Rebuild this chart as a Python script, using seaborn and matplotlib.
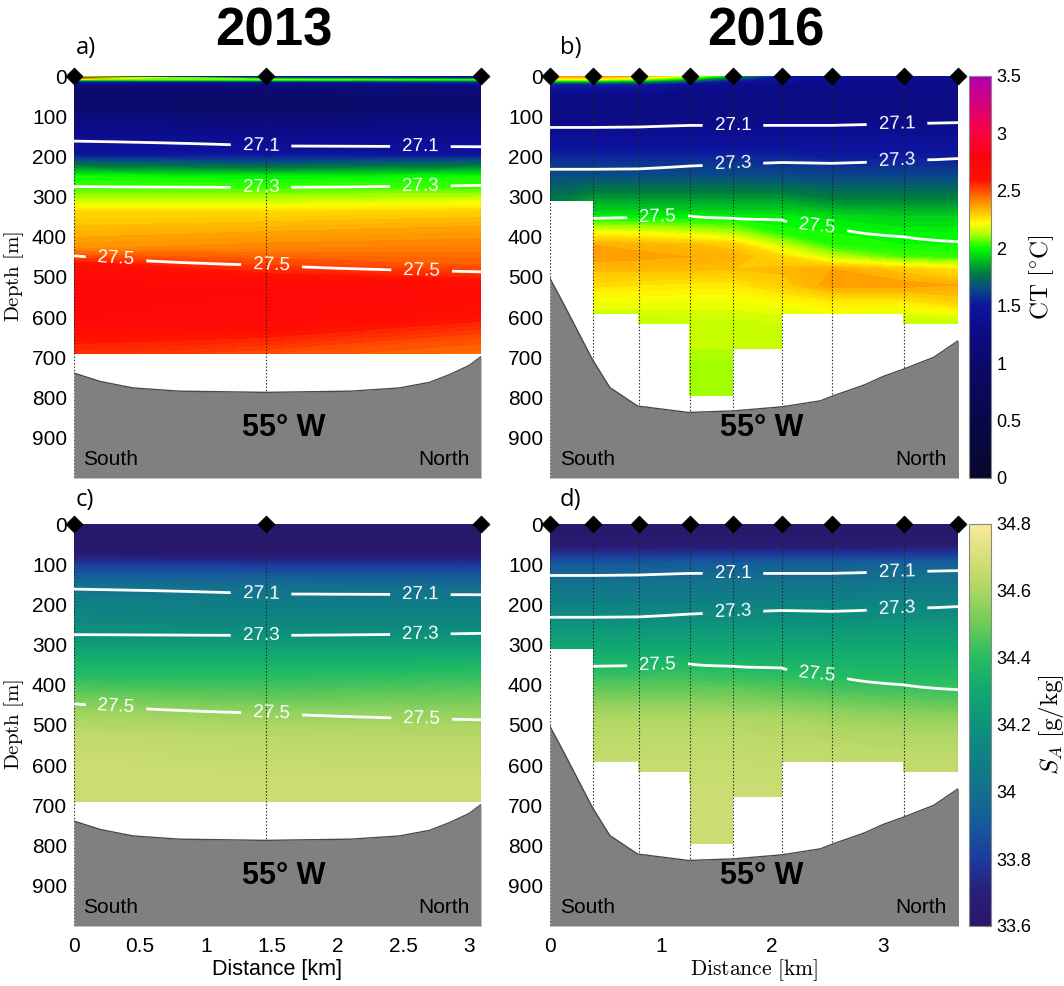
import numpy as np
import matplotlib
matplotlib.use("Agg")
import matplotlib.pyplot as plt
import seaborn as sns
from matplotlib.colors import LinearSegmentedColormap, Normalize
from matplotlib.cm import ScalarMappable

# ------------------------------------------------------------------ data
stations_2013 = [0.0, 1.46, 3.09]
stations_2016 = [0.0, 0.39, 0.80, 1.26, 1.65, 2.09, 2.54, 3.19, 3.68]
xmax_2013 = 3.09
xmax_2016 = 3.68

depth_2013 = [0, 4, 9, 16, 30, 70, 110, 150, 190, 220, 250, 280, 310, 340,
              380, 430, 470, 530, 600, 650, 690]
bottom_2013 = [690, 690, 690]

ct_2013_south = [1.3, 2.6, 2.05, 1.3, 1.1, 1.0, 1.2, 1.35, 1.45, 1.75, 2.0, 2.05,
                 2.15, 2.28, 2.33, 2.4, 2.62, 2.72, 2.7, 2.6, 2.55]
ct_2013_mid = [1.2, 1.6, 2.1, 1.3, 1.1, 0.95, 1.15, 1.35, 1.45, 1.7, 1.98, 2.05,
               2.15, 2.28, 2.35, 2.42, 2.52, 2.7, 2.68, 2.58, 2.5]
ct_2013_north = [1.2, 1.4, 2.0, 1.5, 1.15, 1.0, 1.2, 1.35, 1.45, 1.75, 2.0, 2.05,
                 2.18, 2.3, 2.37, 2.43, 2.48, 2.66, 2.6, 2.5, 2.45]

sa_2013_south = [33.62, 33.62, 33.62, 33.62, 33.62, 33.63, 33.85, 34.0, 34.08, 34.11,
                 34.15, 34.2, 34.27, 34.33, 34.4, 34.5, 34.58, 34.65, 34.67, 34.67, 34.67]
sa_2013_mid = [33.62, 33.62, 33.62, 33.62, 33.62, 33.63, 33.83, 33.99, 34.07, 34.1,
               34.14, 34.2, 34.27, 34.33, 34.4, 34.48, 34.56, 34.63, 34.66, 34.67, 34.67]
sa_2013_north = [33.62, 33.62, 33.62, 33.62, 33.62, 33.63, 33.82, 33.98, 34.06, 34.1,
                 34.14, 34.2, 34.27, 34.34, 34.42, 34.5, 34.56, 34.62, 34.66, 34.67, 34.67]

depth_2016 = [0, 8, 20, 50, 100, 150, 200, 250, 310, 350, 390, 420, 450, 480,
              520, 560, 592, 615, 678, 720, 795]
bottom_2016 = [310, 592, 615, 795, 795, 678, 592, 615, 615]

ct_2016 = [
    [2.4, 2.2, 1.55, 1.25, 1.25, 1.4, 1.55, 1.66, 1.76],
    [2.4, 2.2, 1.55, 1.25, 1.25, 1.4, 1.55, 1.66, 1.85, 1.97, 2.22, 2.36, 2.38, 2.33,
     2.27, 2.2, 2.17],
    [2.35, 2.1, 1.55, 1.25, 1.25, 1.4, 1.55, 1.66, 1.85, 1.97, 2.2, 2.35, 2.37, 2.33,
     2.26, 2.2, 2.17, 2.14],
    [2.2, 1.9, 1.4, 1.25, 1.25, 1.4, 1.55, 1.66, 1.85, 1.97, 2.17, 2.33, 2.36, 2.33,
     2.25, 2.2, 2.17, 2.15, 2.14, 2.11, 2.1],
    [1.9, 1.6, 1.35, 1.25, 1.25, 1.4, 1.55, 1.66, 1.85, 1.97, 2.13, 2.3, 2.35, 2.32,
     2.25, 2.2, 2.17, 2.15, 2.14, 2.11, 2.1],
    [1.5, 1.45, 1.3, 1.25, 1.25, 1.4, 1.55, 1.65, 1.85, 1.97, 2.02, 2.15, 2.28, 2.33,
     2.3, 2.22, 2.18, 2.16, 2.14],
    [1.4, 1.35, 1.3, 1.25, 1.25, 1.4, 1.52, 1.64, 1.8, 1.95, 2.0, 2.02, 2.15, 2.36,
     2.38, 2.25, 2.2],
    [1.4, 1.35, 1.3, 1.25, 1.25, 1.4, 1.52, 1.64, 1.8, 1.92, 1.98, 2.0, 2.05, 2.3,
     2.38, 2.25, 2.18, 2.14],
    [1.4, 1.35, 1.3, 1.25, 1.25, 1.4, 1.52, 1.64, 1.8, 1.92, 1.98, 2.0, 2.03, 2.25,
     2.36, 2.3, 2.2, 2.14],
]

sa_2016 = [
    [33.62, 33.62, 33.62, 33.64, 33.9, 34.02, 34.1, 34.2, 34.3],
    [33.62, 33.62, 33.62, 33.64, 33.9, 34.02, 34.1, 34.2, 34.3, 34.37, 34.45, 34.5,
     34.56, 34.6, 34.63, 34.65, 34.66],
    [33.62, 33.62, 33.62, 33.64, 33.9, 34.02, 34.1, 34.2, 34.3, 34.37, 34.45, 34.5,
     34.56, 34.6, 34.63, 34.65, 34.66, 34.66],
    [33.62, 33.62, 33.62, 33.64, 33.92, 34.02, 34.1, 34.2, 34.3, 34.38, 34.45, 34.5,
     34.56, 34.6, 34.63, 34.65, 34.66, 34.66, 34.67, 34.67, 34.67],
    [33.62, 33.62, 33.62, 33.64, 33.92, 34.03, 34.1, 34.2, 34.3, 34.37, 34.44, 34.5,
     34.55, 34.6, 34.63, 34.65, 34.66, 34.66, 34.67, 34.67, 34.67],
    [33.62, 33.62, 33.62, 33.64, 33.93, 34.03, 34.11, 34.2, 34.3, 34.36, 34.43, 34.48,
     34.54, 34.59, 34.62, 34.64, 34.65, 34.66, 34.67],
    [33.62, 33.62, 33.62, 33.64, 33.93, 34.03, 34.11, 34.2, 34.3, 34.35, 34.41, 34.46,
     34.52, 34.57, 34.61, 34.64, 34.65],
    [33.62, 33.62, 33.62, 33.64, 33.94, 34.04, 34.12, 34.21, 34.3, 34.35, 34.4, 34.45,
     34.5, 34.56, 34.6, 34.63, 34.65, 34.65],
    [33.62, 33.62, 33.62, 33.64, 33.94, 34.04, 34.12, 34.21, 34.3, 34.35, 34.4, 34.44,
     34.49, 34.55, 34.6, 34.63, 34.65, 34.65],
]

# isopycnal depths (m) at each station
iso_levels = [27.1, 27.3, 27.5]
iso271_2013 = [162, 174, 176]
iso273_2013 = [275, 277, 272]
iso275_2013 = [447, 471, 487]
iso271_2016 = [128, 128, 127, 123, 123, 123, 123, 119, 116]
iso273_2016 = [232, 232, 231, 224, 219, 215, 217, 210, 205]
iso275_2016 = [np.nan, 354, 352, 348, 354, 358, 376, 400, 412]

# isopycnal label positions (km, m)
iso_labels_2013 = [(1.42, 174), (2.63, 175), (1.42, 277), (2.63, 273),
                   (0.32, 450), (1.50, 471), (2.64, 481)]
iso_labels_2016 = [(1.65, 123), (3.13, 119), (1.65, 219), (3.13, 210),
                   (0.97, 352), (2.41, 371)]

# bathymetry
bathy_x_2013 = [0, 0.2, 0.45, 0.8, 1.46, 2.1, 2.47, 2.7, 2.85, 3.0, 3.09]
bathy_z_2013 = [739, 760, 776, 784, 787, 784, 776, 762, 743, 720, 698]
bathy_x_2016 = [0, 0.1, 0.2, 0.38, 0.54, 0.79, 1.25, 1.66, 2.09, 2.44, 2.55, 2.84,
                3.0, 3.2, 3.46, 3.69]
bathy_z_2016 = [504, 555, 608, 704, 775, 821, 837, 833, 823, 808, 796, 768, 748,
                728, 700, 657]

depth_ticks = [0, 100, 200, 300, 400, 500, 600, 700, 800, 900]
dist_ticks_2013 = [0, 0.5, 1, 1.5, 2, 2.5, 3]
dist_ticks_2016 = [0, 1, 2, 3]
ct_ticks = [0, 0.5, 1, 1.5, 2, 2.5, 3, 3.5]
sa_ticks = [33.6, 33.8, 34.0, 34.2, 34.4, 34.6, 34.8]

# ------------------------------------------------------------------ style
sns.set_style("white")
plt.rcParams["font.family"] = ["Liberation Sans", "DejaVu Sans"]
plt.rcParams["mathtext.fontset"] = "cm"
for key in ("text.color", "axes.labelcolor", "xtick.color", "ytick.color"):
    plt.rcParams[key] = "black"

ct_cmap = LinearSegmentedColormap.from_list("ct", [
    (0.0 / 3.5, "#08082e"), (0.5 / 3.5, "#080848"), (1.0 / 3.5, "#0a0a6a"),
    (1.3 / 3.5, "#0c0c8a"), (1.5 / 3.5, "#0e14a0"), (1.65 / 3.5, "#0a4a88"),
    (1.78 / 3.5, "#007a40"), (1.9 / 3.5, "#00c020"), (2.0 / 3.5, "#00ff00"),
    (2.12 / 3.5, "#aaff00"), (2.22 / 3.5, "#ffff00"), (2.35 / 3.5, "#ffb000"),
    (2.45 / 3.5, "#ff7000"), (2.6 / 3.5, "#ff1000"), (2.8 / 3.5, "#ff0010"),
    (3.0 / 3.5, "#ff0040"), (1.0, "#b000b0")])
sa_cmap = LinearSegmentedColormap.from_list("sa", [
    (0.0, "#2a176a"), (0.1 / 1.2, "#271f7a"), (0.2 / 1.2, "#1d3b9e"),
    (0.3 / 1.2, "#155a9c"), (0.4 / 1.2, "#146f8e"), (0.5 / 1.2, "#0f8184"),
    (0.6 / 1.2, "#0e927c"), (0.7 / 1.2, "#10a870"), (0.8 / 1.2, "#25bc62"),
    (0.9 / 1.2, "#6cca58"), (1.0 / 1.2, "#acd663"), (1.1 / 1.2, "#d6df78"),
    (1.0, "#f7e99a")])
ct_norm = Normalize(0, 3.5)
sa_norm = Normalize(33.6, 34.8)

W, H = 1064, 986
fig = plt.figure(figsize=(W / 100, H / 100), dpi=100)


def rect(x0, y0, x1, y1):
    return [x0 / W, 1 - y1 / H, (x1 - x0) / W, (y1 - y0) / H]


ax_a = fig.add_axes(rect(74, 76, 481, 478))
ax_b = fig.add_axes(rect(550, 76, 958, 478))
ax_c = fig.add_axes(rect(74, 524, 481, 926))
ax_d = fig.add_axes(rect(550, 524, 958, 926))
cax1 = fig.add_axes(rect(969, 76, 991, 478))
cax2 = fig.add_axes(rect(969, 524, 991, 926))


def gridded(depths, profiles):
    z = np.full((len(depths), len(profiles)), np.nan)
    for j, p in enumerate(profiles):
        z[:len(p), j] = p
    return np.ma.masked_invalid(z)


def panel(ax, stations, depths, profiles, bottoms, cmap, norm, levels,
          iso271, iso273, iso275, label_pos, bx, bz, xmax, ns_x, w55_x):
    X, Y = np.meshgrid(stations, depths)
    Z = gridded(depths, profiles)
    ax.contourf(X, Y, Z, levels=levels, cmap=cmap, norm=norm, extend="both",
                corner_mask=False, antialiased=False, zorder=1)
    # station lines
    ax.vlines(stations, 0, 1000, colors="#222222", linestyles=(0, (1.2, 1.8)),
              linewidth=0.8, zorder=2)
    # isopycnals
    zg = np.arange(0, 1001, 2.0)
    sig = np.full((len(zg), len(stations)), np.nan)
    for j in range(len(stations)):
        d = np.array([0, iso271[j], iso273[j], iso275[j], 1000], float)
        s = np.array([26.9, 27.1, 27.3, 27.5, 27.8])
        k = np.isfinite(d)
        col = np.interp(zg, d[k], s[k])
        col[zg > bottoms[j]] = np.nan
        sig[:, j] = col
    cs = ax.contour(stations, zg, np.ma.masked_invalid(sig), levels=iso_levels,
                    colors="white", linewidths=2.0, corner_mask=False, zorder=4)
    ax.set_xlim(0, xmax)
    ax.set_ylim(1000, 0)
    ax.clabel(cs, manual=label_pos, inline=True, fontsize=13.5, fmt="%.1f",
              inline_spacing=12, colors="white")
    # bathymetry
    ax.fill_between(bx, bz, 1000, color="#808080", linewidth=0, zorder=5)
    sns.lineplot(x=bx, y=bz, ax=ax, color="#4a4a4a", linewidth=1.0, sort=False,
                 legend=False, zorder=6)
    # stations
    sns.scatterplot(x=stations, y=[0] * len(stations), ax=ax, marker="D", s=75,
                    color="black", edgecolor="black", linewidth=0.5, legend=False,
                    clip_on=False, zorder=10)
    ax.text(ns_x[0], 955, "South", fontsize=15, ha="left", va="center", zorder=7)
    ax.text(ns_x[1], 955, "North", fontsize=15, ha="right", va="center", zorder=7)
    ax.text(w55_x, 875, "55° W", fontsize=22, fontweight="bold", ha="center",
            va="center", zorder=7)
    ax.set_xlim(0, xmax)
    ax.set_ylim(1000, 0)
    ax.set_yticks(depth_ticks)
    ax.set_yticklabels([str(t) for t in depth_ticks])
    ax.tick_params(length=0, labelsize=15, pad=5)
    for sp in ax.spines.values():
        sp.set_visible(False)
    ax.grid(False)


ct_levels = np.linspace(0, 3.5, 176)
sa_levels = np.linspace(33.6, 34.8, 161)
ct_2013 = [ct_2013_south, ct_2013_mid, ct_2013_north]
sa_2013 = [sa_2013_south, sa_2013_mid, sa_2013_north]

panel(ax_a, stations_2013, depth_2013, ct_2013, bottom_2013, ct_cmap, ct_norm,
      ct_levels, iso271_2013, iso273_2013, iso275_2013, iso_labels_2013,
      bathy_x_2013, bathy_z_2013, xmax_2013, (0.066, 3.0), 1.59)
panel(ax_b, stations_2016, depth_2016, ct_2016, bottom_2016, ct_cmap, ct_norm,
      ct_levels, iso271_2016, iso273_2016, iso275_2016, iso_labels_2016,
      bathy_x_2016, bathy_z_2016, xmax_2016, (0.09, 3.58), 1.91)
panel(ax_c, stations_2013, depth_2013, sa_2013, bottom_2013, sa_cmap, sa_norm,
      sa_levels, iso271_2013, iso273_2013, iso275_2013, iso_labels_2013,
      bathy_x_2013, bathy_z_2013, xmax_2013, (0.066, 3.0), 1.59)
panel(ax_d, stations_2016, depth_2016, sa_2016, bottom_2016, sa_cmap, sa_norm,
      sa_levels, iso271_2016, iso273_2016, iso275_2016, iso_labels_2016,
      bathy_x_2016, bathy_z_2016, xmax_2016, (0.09, 3.58), 1.91)

for ax in (ax_a, ax_b):
    ax.set_xticks([])
ax_c.set_xticks(dist_ticks_2013)
ax_c.set_xticklabels(["%g" % t for t in dist_ticks_2013])
ax_d.set_xticks(dist_ticks_2016)
ax_d.set_xticklabels(["%g" % t for t in dist_ticks_2016])
ax_c.tick_params(axis="x", pad=8)
ax_d.tick_params(axis="x", pad=8)

ax_c.set_xlabel("Distance [km]", fontsize=15.5, labelpad=2)
ax_d.set_xlabel(r"$\mathrm{Distance\ [km]}$", fontsize=15.5, labelpad=1)
ax_a.set_ylabel(r"$\mathrm{Depth\ [m]}$", fontsize=15, labelpad=4)
ax_c.set_ylabel(r"$\mathrm{Depth\ [m]}$", fontsize=15, labelpad=4)

# colorbars
for cax, cmap, norm, ticks, label in (
        (cax1, ct_cmap, ct_norm, ct_ticks, r"$\mathrm{CT\ [^{\circ}C]}$"),
        (cax2, sa_cmap, sa_norm, sa_ticks, r"$S_A\ \mathrm{[g/kg]}$")):
    cb = fig.colorbar(ScalarMappable(norm=norm, cmap=cmap), cax=cax)
    cb.set_ticks(ticks)
    cb.set_ticklabels(["%g" % t for t in ticks])
    cb.outline.set_edgecolor("#888888")
    cb.outline.set_linewidth(0.8)
    cax.tick_params(direction="in", length=4, width=0.8, color="#444444",
                    labelsize=13, pad=4)
    cb.set_label(label, fontsize=18, labelpad=4)

# panel letters and titles
for txt, x, y in (("a)", 76, 48), ("b)", 560, 48), ("c)", 76, 500), ("d)", 560, 500)):
    fig.text(x / W, 1 - y / H, txt, fontsize=17, ha="left", va="center",
             family=["Open Sans", "DejaVu Sans"])
fig.text(274 / W, 1 - 31 / H, "2013", fontsize=38, fontweight="bold",
         ha="center", va="center")
fig.text(766 / W, 1 - 31 / H, "2016", fontsize=38, fontweight="bold",
         ha="center", va="center")

fig.savefig("out.png", dpi=100)
